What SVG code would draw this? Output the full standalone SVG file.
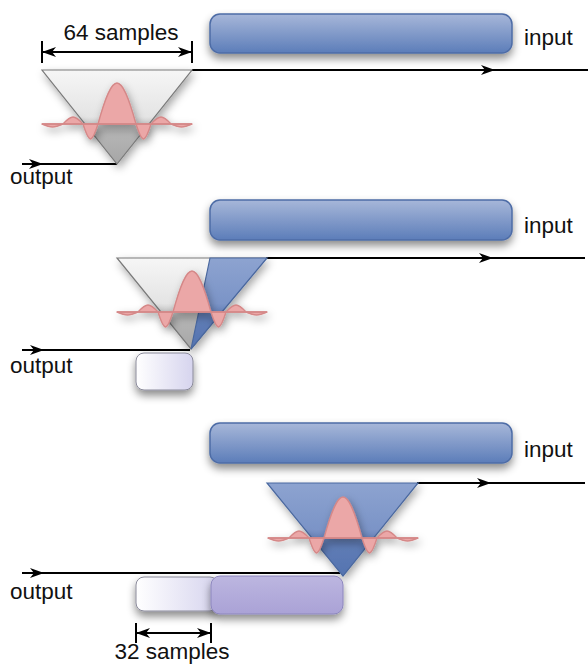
<svg xmlns="http://www.w3.org/2000/svg" width="588" height="671" viewBox="0 0 588 671">
  <defs>
    <style>
      .lbl { font-family: "Liberation Sans", Arial, sans-serif; font-size: 22.5px; fill: #111; }
      .wire { stroke: #000; stroke-width: 2; fill: none; }
      .bar { fill: url(#barGrad); stroke: #4d6ca6; stroke-width: 1.5; filter: url(#shadow); }
      .tri-gray { fill: url(#grayGrad); stroke: #7a7a7a; stroke-width: 1.2; }
      .tri-blue { fill: url(#blueGrad); stroke: #4a689f; stroke-width: 1.2; }
      .box-white { fill: url(#whiteGrad); stroke: #8a8a9a; stroke-width: 1; filter: url(#shadow); }
      .box-purple { fill: url(#purpleGrad); stroke: #8c86bd; stroke-width: 1; filter: url(#shadow); }
      .sinc { fill: #eba7a7; stroke: #d58888; stroke-width: 1.4; stroke-linejoin: round; }
    </style>
    <filter id="shadow" x="-20%" y="-30%" width="140%" height="180%">
      <feDropShadow dx="0" dy="5" stdDeviation="4" flood-color="#000" flood-opacity="0.45"/>
    </filter>
    <filter id="softShadow" x="-20%" y="-30%" width="140%" height="180%">
      <feDropShadow dx="2" dy="4" stdDeviation="4" flood-color="#000" flood-opacity="0.35"/>
    </filter>
    <linearGradient id="barGrad" x1="0" y1="0" x2="0" y2="1">
      <stop offset="0" stop-color="#a7b7d9"/>
      <stop offset="1" stop-color="#5c7db9"/>
    </linearGradient>
    <linearGradient id="grayGrad" x1="0" y1="0" x2="0" y2="1">
      <stop offset="0" stop-color="#f6f6f6"/>
      <stop offset="0.5" stop-color="#e4e4e4"/>
      <stop offset="0.66" stop-color="#b6b6b6"/>
      <stop offset="1" stop-color="#a6a6a6"/>
    </linearGradient>
    <linearGradient id="blueGrad" x1="0" y1="0" x2="0" y2="1">
      <stop offset="0" stop-color="#8da3d0"/>
      <stop offset="0.5" stop-color="#7b94c7"/>
      <stop offset="0.66" stop-color="#5f7cb6"/>
      <stop offset="1" stop-color="#5574b0"/>
    </linearGradient>
    <linearGradient id="whiteGrad" x1="0" y1="0" x2="1" y2="0">
      <stop offset="0" stop-color="#ffffff"/>
      <stop offset="1" stop-color="#d6d4ee"/>
    </linearGradient>
    <linearGradient id="purpleGrad" x1="0" y1="0" x2="0" y2="1">
      <stop offset="0" stop-color="#bcb6e0"/>
      <stop offset="1" stop-color="#aaa2d6"/>
    </linearGradient>
    <marker id="arrow" viewBox="0 0 14 10" refX="14" refY="5" markerWidth="14" markerHeight="10" markerUnits="userSpaceOnUse" orient="auto-start-reverse">
      <path d="M0,0 L14,5 L0,10 L4,5 Z" fill="#000"/>
    </marker>
    <!-- sinc-like impulse response, centred on its baseline -->
    <g id="sincShape">
      <path class="sinc" d="M-75,0 C-66.1,4 -62.9,4 -54,0 C-45.5,-9.3 -42.5,-9.3 -34,0 C-27.6,20 -25.4,20 -19,0 C-4,-54.7 4,-54.7 19,0 C25.4,20 27.6,20 34,0 C42.5,-9.3 45.5,-9.3 54,0 C62.9,4 66.1,4 75,0 Z"/>
      <line x1="-75" y1="0" x2="75" y2="0" stroke="#d58888" stroke-width="1.4"/>
    </g>
  </defs>

  <!-- connectors: input/output lines and dimension arrows -->
  <g id="connectors">
    <!-- step 1 -->
    <line class="wire" x1="192" y1="70" x2="495" y2="70" marker-end="url(#arrow)"/>
    <line class="wire" x1="494" y1="70" x2="588" y2="70"/>
    <line class="wire" x1="22" y1="164" x2="43" y2="164" marker-end="url(#arrow)"/>
    <line class="wire" x1="42" y1="164" x2="117" y2="164"/>
    <line class="wire" x1="42" y1="52" x2="192" y2="52" marker-start="url(#arrow)" marker-end="url(#arrow)"/>
    <line class="wire" x1="42" y1="41" x2="42" y2="63"/>
    <line class="wire" x1="192" y1="41" x2="192" y2="63"/>
    <!-- step 2 -->
    <line class="wire" x1="266" y1="258" x2="493" y2="258" marker-end="url(#arrow)"/>
    <line class="wire" x1="492" y1="258" x2="585" y2="258"/>
    <line class="wire" x1="22" y1="350" x2="44" y2="350" marker-end="url(#arrow)"/>
    <line class="wire" x1="43" y1="350" x2="190" y2="350"/>
    <!-- step 3 -->
    <line class="wire" x1="417" y1="483" x2="491" y2="483" marker-end="url(#arrow)"/>
    <line class="wire" x1="490" y1="483" x2="585" y2="483"/>
    <line class="wire" x1="22" y1="573" x2="44" y2="573" marker-end="url(#arrow)"/>
    <line class="wire" x1="43" y1="573" x2="340" y2="573"/>
    <line class="wire" x1="136" y1="633" x2="211" y2="633" marker-start="url(#arrow)" marker-end="url(#arrow)"/>
    <line class="wire" x1="136" y1="623" x2="136" y2="643"/>
    <line class="wire" x1="211" y1="623" x2="211" y2="643"/>
  </g>

  <!-- step 1 -->
  <g id="input-1">
    <rect class="bar" x="210" y="14" width="302" height="39" rx="10"/>
    <text class="lbl" x="524" y="45">input</text>
  </g>
  <g id="filter-1">
    <polygon class="tri-gray" points="42,70 192,70 117,164" filter="url(#softShadow)"/>
    <use href="#sincShape" transform="translate(117,124)" filter="url(#softShadow)"/>
  </g>
  <g id="output-1">
    <text class="lbl" x="10" y="184">output</text>
  </g>
  <g id="width-64">
    <text class="lbl" x="121" y="40" text-anchor="middle">64 samples</text>
  </g>

  <!-- step 2 -->
  <g id="input-2">
    <rect class="bar" x="210" y="200" width="302" height="40" rx="10"/>
    <text class="lbl" x="524" y="233">input</text>
  </g>
  <g id="filter-2">
    <g filter="url(#softShadow)">
      <polygon class="tri-gray" points="117,258 266,258 191,349"/>
      <polygon class="tri-blue" points="210,258 267,258 191,349"/>
    </g>
    <use href="#sincShape" transform="translate(192,312)" filter="url(#softShadow)"/>
  </g>
  <g id="output-2">
    <rect class="box-white" x="136" y="353" width="57" height="37" rx="8"/>
    <text class="lbl" x="10" y="373">output</text>
  </g>

  <!-- step 3 -->
  <g id="input-3">
    <rect class="bar" x="210" y="423" width="302" height="40" rx="10"/>
    <text class="lbl" x="524" y="457">input</text>
  </g>
  <g id="filter-3">
    <polygon class="tri-blue" points="267,483 418,483 343,576" filter="url(#softShadow)"/>
    <use href="#sincShape" transform="translate(343,538)" filter="url(#softShadow)"/>
  </g>
  <g id="output-3">
    <rect class="box-white" x="136" y="577" width="82" height="34" rx="8"/>
    <rect class="box-purple" x="211" y="576" width="132" height="38" rx="9"/>
    <text class="lbl" x="10" y="599">output</text>
  </g>
  <g id="width-32">
    <text class="lbl" x="172" y="659" text-anchor="middle">32 samples</text>
  </g>
</svg>
